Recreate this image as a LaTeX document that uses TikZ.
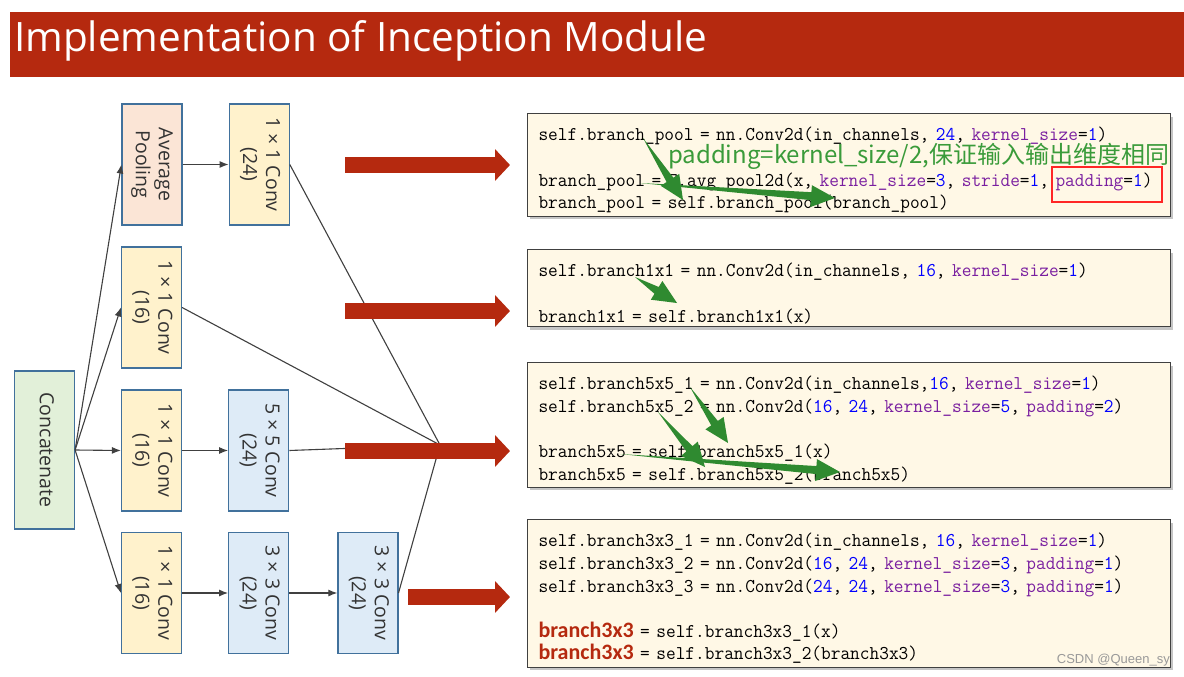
\documentclass[tikz,border=0pt]{standalone}
\usepackage{fontspec}
\setmainfont{Open Sans}
\newfontfamily\codefont[FakeStretch=0.965]{Latin Modern Mono}
\newfontfamily\cjkfont{Noto Sans CJK SC}
\newfontfamily\boldsans{Carlito}
\newfontfamily\marksans{Liberation Sans}
\usetikzlibrary{positioning, arrows.meta, shadows, calc}

\definecolor{titlered}{HTML}{B5290F}
\definecolor{boxblue}{HTML}{41719C}
\definecolor{darktext}{HTML}{404040}
\definecolor{labeltext}{HTML}{333333}
\definecolor{poolfill}{HTML}{FBE5D6}
\definecolor{convfill}{HTML}{FFF2CC}
\definecolor{bigfill}{HTML}{DEEBF7}
\definecolor{catfill}{HTML}{E2F0D9}
\definecolor{codefill}{HTML}{FFF8E6}
\definecolor{numblue}{HTML}{0000FF}
\definecolor{kwpurple}{HTML}{7A1FA0}
\definecolor{notegreen}{HTML}{2F8A30}
\definecolor{notetext}{HTML}{3A9B3A}

\newcommand\vlabel[1]{\rotatebox{-90}{\begin{tabular}{@{}c@{}}#1\end{tabular}}}
\newcommand\num[1]{\textcolor{numblue}{#1}}
\newcommand\kw[1]{\textcolor{kwpurple}{#1}}
\newcommand\hot[1]{{\color{titlered}\boldsans\bfseries\fontsize{22}{22.6}\selectfont #1}}
\newcommand\topstrut{\rule{0pt}{24pt}}
\newcommand\hintarrow[2]{%
  \coordinate (hb) at ($(#2)!24pt!(#1)$);
  \fill[notegreen] (#1) -- ($(hb)!4pt!90:(#1)$) -- ($(hb)!11pt!90:(#1)$) -- (#2)
    -- ($(hb)!11pt!-90:(#1)$) -- ($(hb)!4pt!-90:(#1)$) -- cycle;}

\tikzset{
  layer/.style={draw=boxblue, line width=1.2pt, minimum width=60pt, minimum height=121pt,
    inner sep=0pt, text=labeltext, font=\fontsize{19.5}{23}\selectfont},
  poolbox/.style={layer, fill=poolfill},
  convbox/.style={layer, fill=convfill},
  bigbox/.style={layer, fill=bigfill},
  catbox/.style={layer, fill=catfill, minimum height=158pt},
  link/.style={draw=darktext, line width=1.1pt, -{Latex[length=9pt,width=7pt]}},
  wire/.style={draw=darktext, line width=1.1pt},
  fatarrow/.style={draw=titlered, line width=16pt, -{Triangle[length=15pt,width=31pt]}},
  codebox/.style={draw=darktext, line width=1pt, fill=codefill, anchor=north west,
    drop shadow={shadow xshift=2pt, shadow yshift=-3pt, opacity=0.45},
    minimum width=643pt, text width=621pt, inner xsep=11pt, align=left,
    font=\codefont\fontsize{19.5}{22.6}\selectfont}
}

\begin{document}
\begin{tikzpicture}[x=1pt, y=-1pt]

    \useasboundingbox (0,0) rectangle (1184,677);
    \fill[white] (0,0) rectangle (1184,677);

    %title bar
    \fill[titlered] (10,12) rectangle (1184,77);
    \node[anchor=base west, inner sep=0pt, text=white, font=\fontsize{40.5}{44}\selectfont]
        (title) at (14,52) {Implementation of Inception Module};

    %define the layers of the module
    \node[catbox] (cat) at (44.5,450) {\vlabel{Concatenate}};
    \node[poolbox] (pool) at (152,164.5) {\vlabel{Average\\Pooling}};
    \node[convbox, right=46pt of pool] (poolconv) {\vlabel{1 × 1 Conv\\(24)}};
    \node[convbox] (b1) at (151.5,307.5) {\vlabel{1 × 1 Conv\\(16)}};
    \node[convbox] (b5a) at (151.5,450.5) {\vlabel{1 × 1 Conv\\(16)}};
    \node[bigbox, right=46pt of b5a] (b5b) {\vlabel{5 × 5 Conv\\(24)}};
    \node[convbox] (b3a) at (151.5,593) {\vlabel{1 × 1 Conv\\(16)}};
    \node[bigbox, right=46pt of b3a] (b3b) {\vlabel{3 × 3 Conv\\(24)}};
    \node[bigbox, right=48pt of b3b] (b3c) {\vlabel{3 × 3 Conv\\(24)}};
    \coordinate (merge) at (440,445);

    %define the links
    \draw[link] (cat.east) -- (pool.west);
    \draw[link] (cat.east) -- (b1.west);
    \draw[link] (cat.east) -- (b5a.west);
    \draw[link] (cat.east) -- (b3a.west);
    \draw[link] (pool) -- (poolconv);
    \draw[link] (b5a) -- (b5b);
    \draw[link] (b3a) -- (b3b);
    \draw[link] (b3b) -- (b3c);
    \draw[wire] (poolconv.east) -- (merge);
    \draw[wire] (b1.east) -- (merge);
    \draw[wire] (b5b.east) -- (merge);
    \draw[wire] (b3c.east) -- (merge);

    %the code of each branch
    \node[codebox, minimum height=102pt] (code1) at (527,113) {%
        \topstrut self.branch\_pool = nn.Conv2d(in\_channels, \num{24}, \kw{kernel\_size}=\num{1})\\
        ~\\
        branch\_pool = F.avg\_pool2d(x, \kw{kernel\_size}=\num{3}, \kw{stride}=\num{1}, \kw{padding}=\num{1})\\
        branch\_pool = self.branch\_pool(branch\_pool)};
    \node[codebox, minimum height=76pt] (code2) at (527,249) {%
        \topstrut self.branch1x1 = nn.Conv2d(in\_channels, \num{16}, \kw{kernel\_size}=\num{1})\\
        ~\\
        branch1x1 = self.branch1x1(x)};
    \node[codebox, minimum height=124pt] (code3) at (527,362) {%
        \topstrut self.branch5x5\_1 = nn.Conv2d(in\_channels,\num{16}, \kw{kernel\_size}=\num{1})\\
        self.branch5x5\_2 = nn.Conv2d(\num{16}, \num{24}, \kw{kernel\_size}=\num{5}, \kw{padding}=\num{2})\\
        ~\\
        branch5x5 = self.branch5x5\_1(x)\\
        branch5x5 = self.branch5x5\_2(branch5x5)};
    \node[codebox, minimum height=144pt] (code4) at (527,519) {%
        \topstrut self.branch3x3\_1 = nn.Conv2d(in\_channels, \num{16}, \kw{kernel\_size}=\num{1})\\
        self.branch3x3\_2 = nn.Conv2d(\num{16}, \num{24}, \kw{kernel\_size}=\num{3}, \kw{padding}=\num{1})\\
        self.branch3x3\_3 = nn.Conv2d(\num{24}, \num{24}, \kw{kernel\_size}=\num{3}, \kw{padding}=\num{1})\\
        ~\\
        \hot{branch3x3} = self.branch3x3\_1(x)\\
        \hot{branch3x3} = self.branch3x3\_2(branch3x3)};

    %red arrows from the branches to the code
    \foreach \x/\y in {345/165, 345/311, 345/451, 408/597}
        \draw[fatarrow] (\x,\y) -- (510,\y);

    %notes on the code
    \draw[red!85!white, line width=2pt] (1052,167) rectangle (1162,202);
    \node[anchor=west, inner sep=0pt, text=notetext, font=\cjkfont\fontsize{24}{27}\selectfont]
        (note) at (668,156) {padding=kernel\_size/2,保证输入输出维度相同};
    \foreach \xa/\ya/\xb/\yb in {643/138/683/200, 640/183/835/198, 635/277/677/303,
        690/387/728/443, 658/412/705/467, 620/454/840/472}
        {\hintarrow{\xa,\ya}{\xb,\yb}}

    \node[anchor=east, inner sep=0pt, text=gray!80, font=\marksans\fontsize{13}{15}\selectfont]
        (mark) at (1170,660) {CSDN @Queen\_sy};
  \end{tikzpicture}
\end{document}
